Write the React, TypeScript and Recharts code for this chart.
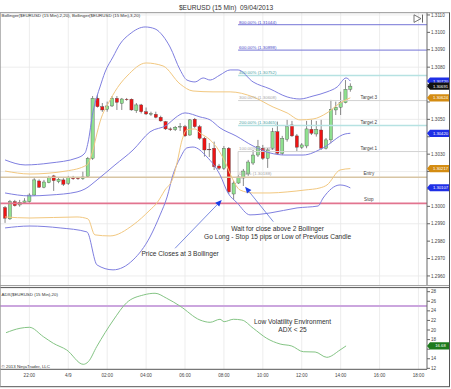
import React from 'react';
import {
  ComposedChart, Bar, Line, XAxis, YAxis, CartesianGrid, ReferenceLine, ReferenceDot,
} from 'recharts';

const FONT = '"Liberation Sans", Arial, sans-serif';

// ---------- time axis (hours, 24 = 00:00 on 4/9) ----------
const xDomain = [20.49, 42.44];
const xTicks = [22, 24, 26, 28, 30, 32, 34, 36, 38, 40, 42];

// ---------- candles (15 min) ----------
const candleTimes = [20.75, 21, 21.25, 21.5, 21.75, 22, 22.25, 22.5, 22.75, 23, 23.25, 23.5, 23.75, 24, 24.25, 24.5, 24.75, 25, 25.25, 25.5, 25.75, 26, 26.25, 26.5, 26.75, 27, 27.25, 27.5, 27.75, 28, 28.25, 28.5, 28.75, 29, 29.25, 29.5, 29.75, 30, 30.25, 30.5, 30.75, 31, 31.25, 31.5, 31.75, 32, 32.25, 32.5, 32.75, 33, 33.25, 33.5, 33.75, 34, 34.25, 34.5, 34.75, 35, 35.25, 35.5, 35.75, 36, 36.25, 36.5, 36.75, 37, 37.25, 37.5, 37.75, 38, 38.25, 38.5];
const opens = [1.29993, 1.29928, 1.30027, 1.30008, 1.30021, 1.30027, 1.30065, 1.30146, 1.30110, 1.30136, 1.30175, 1.30142, 1.30152, 1.30133, 1.30165, 1.30162, 1.30159, 1.30171, 1.30276, 1.30621, 1.30573, 1.30558, 1.30577, 1.30621, 1.30592, 1.30616, 1.30616, 1.30550, 1.30583, 1.30544, 1.30531, 1.30529, 1.30512, 1.30487, 1.30445, 1.30441, 1.30457, 1.30458, 1.30410, 1.30501, 1.30458, 1.30391, 1.30328, 1.30334, 1.30232, 1.30219, 1.30334, 1.30071, 1.30134, 1.30163, 1.30186, 1.30249, 1.30295, 1.30334, 1.30276, 1.30334, 1.30429, 1.30305, 1.30386, 1.30468, 1.30405, 1.30340, 1.30347, 1.30443, 1.30416, 1.30439, 1.30334, 1.30382, 1.30554, 1.30570, 1.30596, 1.30673];
const highs = [1.30002, 1.30037, 1.30037, 1.30037, 1.30047, 1.30075, 1.30162, 1.30155, 1.30152, 1.30175, 1.30181, 1.30165, 1.30162, 1.30175, 1.30175, 1.30169, 1.30199, 1.30284, 1.30634, 1.30640, 1.30594, 1.30602, 1.30634, 1.30634, 1.30623, 1.30623, 1.30620, 1.30594, 1.30589, 1.30568, 1.30544, 1.30544, 1.30521, 1.30491, 1.30454, 1.30462, 1.30479, 1.30468, 1.30502, 1.30508, 1.30468, 1.30399, 1.30364, 1.30372, 1.30244, 1.30347, 1.30341, 1.30146, 1.30181, 1.30215, 1.30267, 1.30324, 1.30382, 1.30353, 1.30336, 1.30451, 1.30487, 1.30405, 1.30497, 1.30491, 1.30416, 1.30364, 1.30491, 1.30497, 1.30491, 1.30497, 1.30393, 1.30612, 1.30602, 1.30659, 1.30726, 1.30707];
const lows = [1.29905, 1.29922, 1.29999, 1.29998, 1.30018, 1.30021, 1.30060, 1.30106, 1.30104, 1.30133, 1.30089, 1.30133, 1.30117, 1.30123, 1.30152, 1.30152, 1.30152, 1.30163, 1.30267, 1.30568, 1.30543, 1.30544, 1.30571, 1.30554, 1.30554, 1.30607, 1.30550, 1.30537, 1.30534, 1.30525, 1.30520, 1.30506, 1.30487, 1.30439, 1.30433, 1.30433, 1.30433, 1.30399, 1.30405, 1.30451, 1.30382, 1.30286, 1.30284, 1.30209, 1.30209, 1.30209, 1.30071, 1.30037, 1.30129, 1.30117, 1.30175, 1.30238, 1.30284, 1.30267, 1.30221, 1.30324, 1.30295, 1.30295, 1.30372, 1.30399, 1.30314, 1.30330, 1.30334, 1.30410, 1.30401, 1.30324, 1.30327, 1.30363, 1.30525, 1.30525, 1.30592, 1.30659];
const closes = [1.29932, 1.30027, 1.30004, 1.30024, 1.30031, 1.30065, 1.30152, 1.30110, 1.30140, 1.30165, 1.30148, 1.30156, 1.30127, 1.30167, 1.30159, 1.30160, 1.30169, 1.30276, 1.30621, 1.30573, 1.30554, 1.30577, 1.30621, 1.30598, 1.30617, 1.30614, 1.30554, 1.30583, 1.30544, 1.30531, 1.30533, 1.30512, 1.30491, 1.30445, 1.30443, 1.30455, 1.30459, 1.30405, 1.30497, 1.30458, 1.30391, 1.30324, 1.30326, 1.30228, 1.30219, 1.30334, 1.30083, 1.30134, 1.30169, 1.30203, 1.30255, 1.30295, 1.30343, 1.30276, 1.30324, 1.30429, 1.30305, 1.30391, 1.30458, 1.30405, 1.30340, 1.30353, 1.30445, 1.30420, 1.30443, 1.30334, 1.30382, 1.30558, 1.30570, 1.30596, 1.30673, 1.30691];

// ---------- Bollinger bands (time, value) ----------
const upper3Raw = [[20.75, 1.30267], [21.78, 1.30238], [23.06, 1.30249], [24.45, 1.30278], [24.86, 1.30307], [25.01, 1.30364], [25.27, 1.30543], [25.48, 1.30634], [25.63, 1.30686], [25.89, 1.30772], [26.3, 1.30859], [26.66, 1.30933], [27.17, 1.30991], [27.95, 1.31031], [28.46, 1.3102], [28.87, 1.30979], [29.23, 1.30916], [29.75, 1.30784], [30.1, 1.30726], [30.52, 1.30715], [30.93, 1.30738], [31.29, 1.30726], [31.8, 1.30755], [32.32, 1.30784], [32.73, 1.30784], [33.5, 1.30715], [34.37, 1.30675], [35.25, 1.30629], [35.91, 1.30617], [36.58, 1.30634], [37.3, 1.30658], [37.82, 1.30686], [38.28, 1.30738], [38.5, 1.3072]];
const upper2Raw = [[20.75, 1.30203], [22.03, 1.30186], [23.88, 1.30203], [24.96, 1.30238], [25.27, 1.30324], [25.48, 1.30422], [25.63, 1.30485], [26.15, 1.30611], [26.66, 1.30703], [27.02, 1.30749], [28.0, 1.30824], [28.87, 1.30807], [29.75, 1.30703], [30.41, 1.30663], [31.44, 1.30658], [32.32, 1.30658], [33.5, 1.30629], [34.53, 1.30571], [35.25, 1.30537], [35.91, 1.30497], [36.58, 1.30502], [37.3, 1.30537], [37.97, 1.30594], [38.5, 1.30624]];
const middleRaw = [[20.75, 1.30077], [22.03, 1.3006], [23.06, 1.30065], [24.45, 1.30083], [24.86, 1.301], [25.48, 1.30152], [26.4, 1.30238], [27.33, 1.30324], [28.2, 1.30428], [29.08, 1.30468], [29.49, 1.30508], [30.0, 1.30537], [30.77, 1.30514], [31.29, 1.30497], [31.8, 1.30451], [32.62, 1.30405], [33.5, 1.30347], [34.37, 1.30307], [35.14, 1.30295], [36.07, 1.30295], [37.1, 1.30336], [38.23, 1.30416], [38.5, 1.3042]];
const lower2Raw = [[20.75, 1.29939], [22.03, 1.29933], [24.45, 1.29939], [25.01, 1.29928], [25.37, 1.29836], [26.15, 1.2983], [27.33, 1.29893], [28.2, 1.29979], [28.56, 1.3002], [28.97, 1.30094], [29.38, 1.30163], [29.59, 1.3025], [29.85, 1.30382], [30.1, 1.3044], [30.52, 1.30445], [30.77, 1.30422], [31.29, 1.30382], [31.65, 1.30336], [32.06, 1.30255], [32.42, 1.30163], [32.83, 1.30094], [33.5, 1.30077], [34.37, 1.30077], [35.25, 1.30083], [36.17, 1.30094], [36.94, 1.30106], [37.3, 1.30123], [37.97, 1.30209], [38.5, 1.30217]];
const lower3Raw = [[20.75, 1.29876], [22.03, 1.29887], [23.58, 1.29876], [24.96, 1.29853], [25.48, 1.29663], [26.3, 1.29635], [27.33, 1.29692], [28.2, 1.29824], [28.72, 1.29951], [29.08, 1.30054], [29.38, 1.30181], [29.75, 1.30278], [30.1, 1.30336], [30.41, 1.30341], [31.13, 1.30284], [31.8, 1.30181], [32.21, 1.30077], [32.68, 1.3002], [33.34, 1.29951], [34.37, 1.29962], [35.76, 1.29991], [36.84, 1.30002], [37.1, 1.30048], [37.97, 1.30123], [38.28, 1.30117], [38.5, 1.30106]];

// ---------- ADX ----------
const adxRaw = [[20.8, 19.44], [21.52, 20.36], [22.0, 20.57], [22.72, 18.61], [23.23, 17.23], [23.92, 15.83], [24.77, 12.84], [25.03, 13.39], [25.46, 16.52], [26.32, 22.09], [27.0, 25.7], [27.86, 27.31], [28.46, 27.67], [29.06, 26.62], [29.74, 25.01], [30.77, 22.09], [31.29, 21.61], [31.8, 22.24], [32.01, 21.74], [32.49, 22.24], [32.92, 22.09], [33.51, 20.36], [34.2, 18.27], [34.89, 17.08], [35.49, 16.66], [36.08, 15.47], [36.69, 15.41], [37.29, 14.3], [37.97, 15.83], [38.28, 16.68]];
const adxThreshold = 25;
const adxLast = 16.68;

// ---------- price axis ----------
const priceDomain = [1.29548, 1.31113];
const priceTicks = [1.296, 1.297, 1.298, 1.299, 1.3, 1.301, 1.302, 1.303, 1.304, 1.305, 1.306, 1.307, 1.308, 1.309, 1.31, 1.311];
const priceGrid = [1.296, 1.299, 1.302, 1.305, 1.308, 1.311];
const adxDomain = [11.8, 28.77];
const adxTicks = [12, 14, 16, 18, 20, 22, 24, 26, 28];

// ---------- levels ----------
const fibStart = 32.73;
const fibLevels = [
  { pct: '800.00%', value: 1.31044, kind: 'purple' },
  { pct: '600.00%', value: 1.30898, kind: 'purple' },
  { pct: '400.00%', value: 1.30752, kind: 'teal' },
  { pct: '300.00%', value: 1.30608, kind: 'gray' },
  { pct: '200.00%', value: 1.30465, kind: 'teal' },
  { pct: '100.00%', value: 1.30315, kind: 'gray' },
];
const fibZero = { pct: '0.00%', value: 1.30188 };
const entryLevel = 1.30167;
const stopLevel = 1.30017;
const targetNames = [
  { name: 'Target 3', value: 1.30608 },
  { name: 'Target 2', value: 1.30465 },
  { name: 'Target 1', value: 1.30315 },
  { name: 'Entry', value: entryLevel },
  { name: 'Stop', value: stopLevel },
];
const priceBadges = [
  { value: 1.3072, kind: 'blue' },
  { value: 1.30691, kind: 'black' },
  { value: 1.30624, kind: 'orange' },
  { value: 1.3042, kind: 'blue' },
  { value: 1.30217, kind: 'orange' },
  { value: 1.30107, kind: 'blue' },
];

// annotation anchors (time, price)
const arrows = [
  { from: [29.49, 1.29759], to: [31.89, 1.30037] },
  { from: [34.54, 1.29912], to: [33.09, 1.30113] },
];
const notes = [
  { t: 29.75, v: 1.29717, text: 'Price Closes at 3 Bollinger' },
  { t: 34.76, v: 1.2986, text: 'Wait for close above 2 Bollinger' },
  { t: 34.76, v: 1.29813, text: 'Go Long - Stop 15 pips or Low of Previous Candle' },
];
const adxNotes = [
  { t: 35.53, v: 21.26, text: 'Low Volatility Environment' },
  { t: 35.53, v: 19.65, text: 'ADX < 25' },
];

// ---------- colours ----------
const C = {
  band3: '#7f7fe0',
  band2: '#f2c880',
  entry: '#d8c5a4',
  stop: '#e2748f',
  purple: '#7474d6',
  teal: '#b6e2e2',
  gray: '#d2d2d2',
  adx: '#84c484',
  adx25: '#cba6de',
  grid: '#e9e9e9',
  text: '#333333',
};
const badgeColor: Record<string, string> = { blue: '#1f2fe6', black: '#111111', orange: '#d48c12' };
const fibText: Record<string, string> = { purple: '#4b4bc8', teal: '#4aa3a3', gray: '#a8a8a8' };
const fibLine: Record<string, string> = { purple: C.purple, teal: C.teal, gray: C.gray };

const toPts = (raw: number[][]) => raw.map(([t, v]) => ({ t, v }));
const candles = candleTimes.map((t, i) => ({
  t, open: opens[i], high: highs[i], low: lows[i], close: closes[i], range: [lows[i], highs[i]],
}));

const fmtTime = (v: number) => (v === 24 ? '4/9' : `${String(v % 24).padStart(2, '0')}:00`);

const BODY_W = 3.2;
const Candle = (props: any) => {
  const { x, y, width, height, payload } = props;
  if (x == null || y == null || !payload) return null;
  const top = Math.min(y, y + height);
  const h = Math.abs(height);
  const { open, close, high, low } = payload;
  const k = high - low > 0 ? h / (high - low) : 0;
  const py = (v: number) => top + (high - v) * k;
  const cx = x + (width || 0) / 2;
  const up = close >= open;
  const bTop = py(Math.max(open, close));
  const bBot = py(Math.min(open, close));
  const bh = Math.max(bBot - bTop, 0.6);
  return (
    <g>
      <line x1={cx} x2={cx} y1={top} y2={top + h} stroke="#3a3a3a" strokeWidth={0.6} />
      <rect x={cx - BODY_W / 2} y={bTop} width={BODY_W} height={bh} fill={up ? '#8fe08f' : '#ee1414'} stroke="#444" strokeWidth={0.35} />
    </g>
  );
};

const Arrow = (p: any) => {
  const { x1, y1, x2, y2 } = p;
  if (x1 == null) return null;
  const ang = Math.atan2(y2 - y1, x2 - x1);
  const L = 6.5, W = 2.8;
  const bx = x2 - L * Math.cos(ang), by = y2 - L * Math.sin(ang);
  const px = -Math.sin(ang) * W, py = Math.cos(ang) * W;
  return (
    <g>
      <line x1={x1} y1={y1} x2={bx} y2={by} stroke="#5a6ed8" strokeWidth={0.8} />
      <polygon points={`${x2},${y2} ${bx + px},${by + py} ${bx - px},${by - py}`} fill="#1a3de6" />
    </g>
  );
};

const textShape = (text: string, opts: { dy?: number; size?: number; fill?: string; anchor?: string }) => (p: any) => (
  <text x={p.cx} y={p.cy + (opts.dy || 0)} fontSize={opts.size || 4.6} fill={opts.fill || C.text}
    textAnchor={(opts.anchor as any) || 'start'} fontFamily={FONT}>{text}</text>
);

const badgeShape = (label: string, color: string) => (p: any) => {
  const x = p.cx, y = p.cy;
  return (
    <g>
      <polygon points={`${x},${y} ${x + 3},${y - 3.6} ${x + 23},${y - 3.6} ${x + 23},${y + 3.6} ${x + 3},${y + 3.6}`} fill={color} />
      <text x={x + 13.5} y={y + 1.5} fontSize={4.2} fill="#fff" textAnchor="middle" fontFamily={FONT}>{label}</text>
    </g>
  );
};

const XTick = (p: any) => (
  <text x={p.x} y={p.y + 7.2} textAnchor="middle" fontSize={4.6} fill="#444" fontFamily={FONT}>{fmtTime(p.payload.value)}</text>
);

// price tick labels that sit under a value badge are covered in the reference
const PriceTick = (p: any) => {
  const v = p.payload.value as number;
  const covered = priceBadges.some((b) => Math.abs(b.value - v) < 0.00036);
  if (covered) return null;
  return (
    <text x={p.x} y={p.y} dy="0.355em" fontSize={4.6} fill="#444" fontFamily={FONT}>{v.toFixed(4)}</text>
  );
};
const AdxTick = (p: any) => {
  const v = p.payload.value as number;
  if (Math.abs(v - adxLast) < 1.2) return null;
  return (
    <text x={p.x} y={p.y} dy="0.355em" fontSize={4.6} fill="#444" fontFamily={FONT}>{v}</text>
  );
};

function MainChart() {
  return (
    <ComposedChart width={451} height={290} data={candles} margin={{ top: 12.7, right: 0, bottom: 5, left: 0 }}>
      <CartesianGrid stroke={C.grid} strokeWidth={0.8} verticalValues={xTicks} horizontalValues={priceGrid} />
      <XAxis type="number" dataKey="t" domain={xDomain} ticks={xTicks} hide allowDataOverflow interval={0} />
      <YAxis orientation="right" type="number" domain={priceDomain} ticks={priceTicks} width={24} interval={0}
        allowDataOverflow tickSize={3} tickMargin={1} tick={<PriceTick />}
        axisLine={{ stroke: '#666' }} tickLine={{ stroke: '#666' }} />

      <ReferenceLine y={entryLevel} stroke={C.entry} strokeWidth={1.6} />
      <ReferenceLine y={stopLevel} stroke={C.stop} strokeWidth={1.6} />
      {fibLevels.map((f) => (
        <ReferenceLine key={f.pct} segment={[{ x: fibStart, y: f.value }, { x: xDomain[1], y: f.value }]}
          stroke={fibLine[f.kind]} strokeWidth={f.kind === 'teal' ? 1.6 : 1} />
      ))}
      <ReferenceLine segment={[{ x: fibStart, y: fibLevels[5].value }, { x: fibStart, y: entryLevel }]} stroke="#c4c4c4" strokeWidth={0.8} />
      {fibLevels.map((f) => (
        <ReferenceDot key={'l' + f.pct} x={fibStart + 0.05} y={f.value} r={0} ifOverflow="visible"
          shape={textShape(`${f.pct} (${f.value.toFixed(5)})`, { dy: -1.2, size: 4.4, fill: fibText[f.kind] })} />
      ))}
      <ReferenceDot x={fibStart + 0.05} y={fibZero.value} r={0} ifOverflow="visible"
        shape={textShape(`${fibZero.pct} (${fibZero.value.toFixed(5)})`, { dy: 1.5, size: 4.4, fill: '#a8a8a8' })} />
      {targetNames.map((tg) => (
        <ReferenceDot key={tg.name} x={39.45} y={tg.value} r={0} ifOverflow="visible"
          shape={textShape(tg.name, { dy: -1.9, size: 4.6, fill: '#444', anchor: 'middle' })} />
      ))}

      <Line data={toPts(upper3Raw)} dataKey="v" type="monotone" stroke={C.band3} strokeWidth={1} dot={false} isAnimationActive={false} />
      <Line data={toPts(lower3Raw)} dataKey="v" type="monotone" stroke={C.band3} strokeWidth={1} dot={false} isAnimationActive={false} />
      <Line data={toPts(upper2Raw)} dataKey="v" type="monotone" stroke={C.band2} strokeWidth={1} dot={false} isAnimationActive={false} />
      <Line data={toPts(lower2Raw)} dataKey="v" type="monotone" stroke={C.band2} strokeWidth={1} dot={false} isAnimationActive={false} />
      <Line data={toPts(middleRaw)} dataKey="v" type="monotone" stroke={C.band3} strokeWidth={1} dot={false} isAnimationActive={false} />

      <Bar dataKey="range" barSize={3} shape={Candle} isAnimationActive={false} />

      {arrows.map((a, i) => (
        <ReferenceLine key={'a' + i} segment={[{ x: a.from[0], y: a.from[1] }, { x: a.to[0], y: a.to[1] }]} shape={Arrow} />
      ))}
      {notes.map((n, i) => (
        <ReferenceDot key={'n' + i} x={n.t} y={n.v} r={0} ifOverflow="visible"
          shape={textShape(n.text, { size: 6.6, fill: '#303030', anchor: 'middle' })} />
      ))}
      {priceBadges.map((b, i) => (
        <ReferenceDot key={'b' + i} x={xDomain[1]} y={b.value} r={0} ifOverflow="visible"
          shape={badgeShape(b.value.toFixed(5), badgeColor[b.kind])} />
      ))}
    </ComposedChart>
  );
}

function AdxChart() {
  return (
    <ComposedChart width={451} height={389} margin={{ top: 288, right: 0, bottom: 0, left: 0 }}>
      <CartesianGrid stroke={C.grid} strokeWidth={0.8} horizontal={false} verticalValues={xTicks} />
      <XAxis type="number" dataKey="t" domain={xDomain} ticks={xTicks} allowDataOverflow height={19.7} interval={0}
        tickLine={false} tickSize={0} tickMargin={0} tick={<XTick />} axisLine={{ stroke: '#555' }} />
      <YAxis orientation="right" type="number" domain={adxDomain} ticks={adxTicks} width={24} interval={0}
        allowDataOverflow tickSize={3} tickMargin={1} tick={<AdxTick />} axisLine={{ stroke: '#666' }} tickLine={{ stroke: '#666' }} />
      <ReferenceLine y={adxThreshold} stroke={C.adx25} strokeWidth={2} />
      <Line data={toPts(adxRaw)} dataKey="v" type="monotone" stroke={C.adx} strokeWidth={1} dot={false} isAnimationActive={false} />
      {adxNotes.map((n, i) => (
        <ReferenceDot key={'an' + i} x={n.t} y={n.v} r={0} ifOverflow="visible"
          shape={textShape(n.text, { size: 6.6, fill: '#303030', anchor: 'middle' })} />
      ))}
      <ReferenceDot x={xDomain[1]} y={adxLast} r={0} ifOverflow="visible" shape={badgeShape(adxLast.toFixed(2), '#1c7a1c')} />
    </ComposedChart>
  );
}

function Frame() {
  return (
    <svg width={451} height={389} style={{ position: 'absolute', left: 0, top: 0, pointerEvents: 'none' }}>
      <text x={226} y={9.6} textAnchor="middle" fontSize={6.6} fill="#333" fontFamily={FONT} style={{ whiteSpace: 'pre' }}>
        {'$EURUSD (15 Min)  09/04/2013'}
      </text>
      <text x={1.5} y={16.9} fontSize={4.4} fill="#333" fontFamily={FONT}>
        Bollinger($EURUSD (15 Min),2,20), Bollinger($EURUSD (15 Min),3,20)
      </text>
      <text x={1.5} y={295.8} fontSize={4.4} fill="#333" fontFamily={FONT}>ADX($EURUSD (15 Min),20)</text>
      <text x={1.5} y={368} fontSize={4.4} fill="#333" fontFamily={FONT}>© 2013 NinjaTrader, LLC</text>
      <line x1={0} y1={12.7} x2={450} y2={12.7} stroke="#777" strokeWidth={0.8} />
      <line x1={0} y1={285.6} x2={450} y2={285.6} stroke="#9a9a9a" strokeWidth={1} />
      <line x1={0} y1={287.6} x2={450} y2={287.6} stroke="#555" strokeWidth={1} />
      <line x1={449.5} y1={12.7} x2={449.5} y2={386.7} stroke="#555" strokeWidth={1} />
      <line x1={0} y1={386.7} x2={450} y2={386.7} stroke="#555" strokeWidth={1} />
      <line x1={0.4} y1={12.7} x2={0.4} y2={386.7} stroke="#999" strokeWidth={0.8} />
      <polygon points="414,14.8 421,18.6 414,22.4" fill="none" stroke="#555" strokeWidth={0.8} />
      <line x1={422.5} y1={14.6} x2={422.5} y2={22.6} stroke="#555" strokeWidth={0.9} />
    </svg>
  );
}

export default function App() {
  return (
    <div style={{ position: 'absolute', left: 0, top: 0, width: 451, height: 389, background: '#fff', overflow: 'hidden' }}>
      <div style={{ position: 'absolute', left: 0, top: 0 }}>
        <MainChart />
      </div>
      <div style={{ position: 'absolute', left: 0, top: 0 }}>
        <AdxChart />
      </div>
      <Frame />
    </div>
  );
}
